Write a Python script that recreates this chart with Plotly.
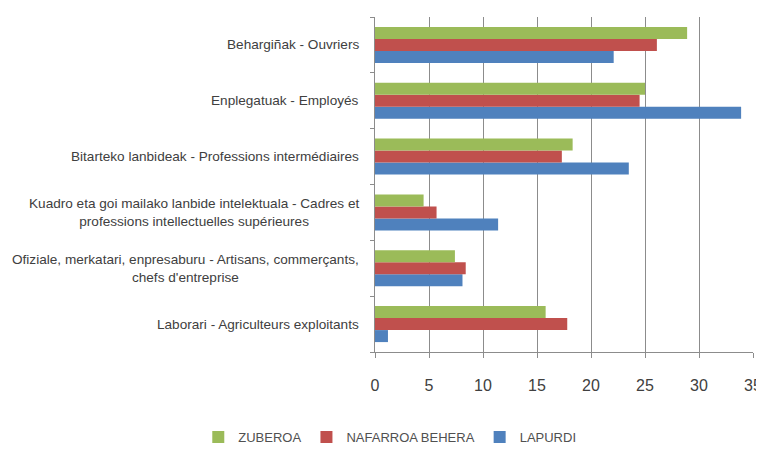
import plotly.graph_objects as go

# categories from bottom to top (Excel order)
categories = [
    "Laborari - Agriculteurs exploitants",
    "Ofiziale, merkatari, enpresaburu - Artisans, commerçants,<br>chefs d'entreprise",
    "Kuadro eta goi mailako lanbide intelektuala - Cadres et<br>professions intellectuelles supérieures",
    "Bitarteko lanbideak - Professions intermédiaires",
    "Enplegatuak - Employés",
    "Behargiñak - Ouvriers",
]
lapurdi = [1.2, 8.1, 11.4, 23.5, 33.9, 22.1]
nafarroa_behera = [17.8, 8.4, 5.7, 17.3, 24.5, 26.1]
zuberoa = [15.8, 7.4, 4.5, 18.3, 25.0, 28.9]
series_names = ["LAPURDI", "NAFARROA BEHERA", "ZUBEROA"]
colors = ["#4F81BD", "#C0504D", "#9BBB59"]
x_ticks = [0, 5, 10, 15, 20, 25, 30, 35]

fig = go.Figure()
for name, vals, c in zip(series_names, [lapurdi, nafarroa_behera, zuberoa], colors):
    fig.add_trace(go.Bar(y=categories, x=vals, name=name, orientation="h",
                         marker=dict(color=c, line=dict(width=0))))

# category labels as centered multi-line annotations
for cat in categories:
    fig.add_annotation(x=0, xref="paper", y=cat, yref="y", text=cat, showarrow=False,
                       xanchor="right", yanchor="middle", align="center", xshift=-14,
                       font=dict(size=13.6, color="#404040",
                                 family="Liberation Sans, Arial, sans-serif"))

fig.update_layout(
    width=756, height=441,
    margin=dict(l=367, r=11, t=9, b=97),
    paper_bgcolor="white", plot_bgcolor="white",
    barmode="group", bargap=0.355, bargroupgap=0,
    font=dict(family="Liberation Sans, Arial, sans-serif", color="#404040"),
    showlegend=True,
    legend=dict(orientation="h", traceorder="reversed", xref="container", yref="container",
                x=0.505, y=0.027, xanchor="center", yanchor="middle",
                font=dict(size=13, color="#505050"), itemwidth=30, tracegroupgap=0),
    xaxis=dict(range=[0, 35], tickvals=x_ticks, showgrid=True, gridcolor="#8c8c8c", gridwidth=1,
               showline=True, linecolor="#8c8c8c", ticks="outside", ticklen=5, tickcolor="#8c8c8c",
               tickfont=dict(size=16, color="#404040"), ticklabelstandoff=14, zeroline=False,
               ticklabeloverflow="allow", automargin=False),
    yaxis=dict(showline=True, linecolor="#8c8c8c", ticks="outside", ticklen=4, tickcolor="#8c8c8c",
               tickson="boundaries", showticklabels=False, showgrid=False, automargin=False),
)
fig.write_html("out.html")
